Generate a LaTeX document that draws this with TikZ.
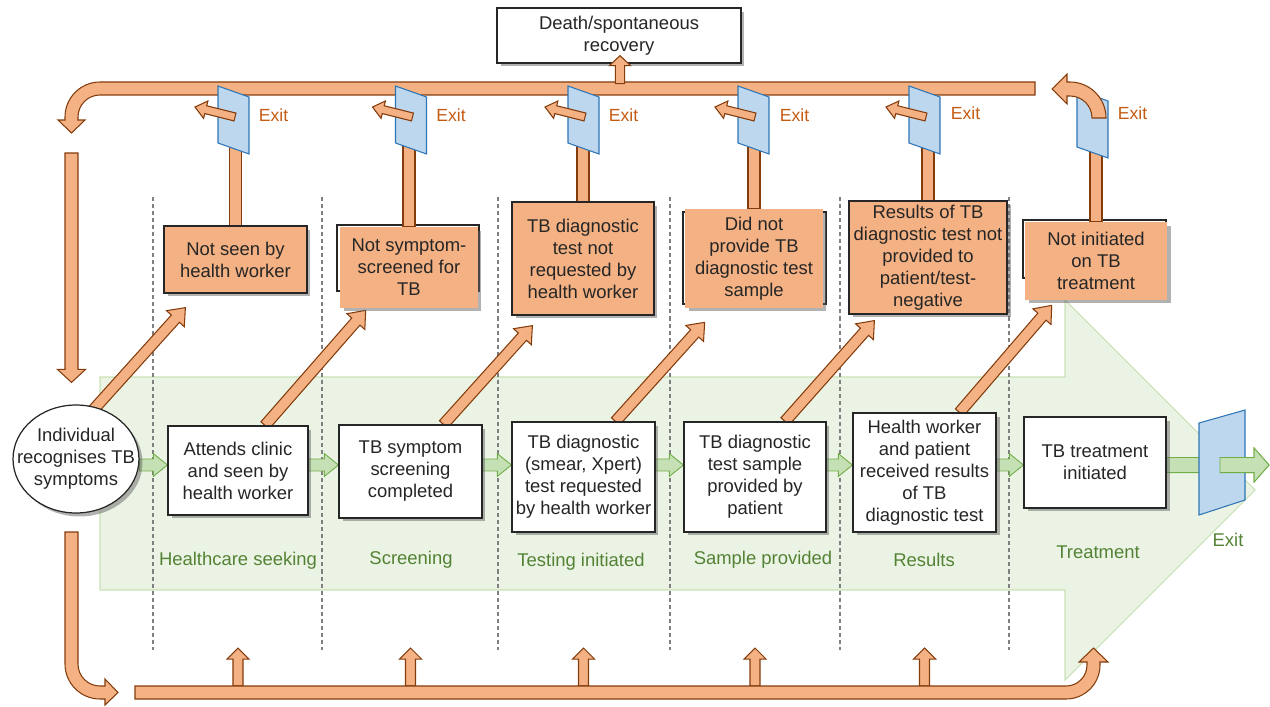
\documentclass[tikz,border=0pt]{standalone}
\usepackage{fontspec}
\setmainfont{Liberation Sans}
\usetikzlibrary{shapes.geometric , calc , shadows}

\definecolor{orangefill}{HTML}{F4B183}
\definecolor{orangeline}{HTML}{843C0C}
\definecolor{greenfill}{HTML}{C5E0B4}
\definecolor{greenline}{HTML}{70AD47}
\definecolor{greenpale}{HTML}{EBF4E4}
\definecolor{greenedge}{HTML}{C9E2B8}
\definecolor{greentext}{HTML}{548235}
\definecolor{doorfill}{HTML}{BDD7EE}
\definecolor{doorline}{HTML}{2E75B6}
\definecolor{exittext}{HTML}{C55A11}
\definecolor{textgray}{HTML}{262626}

\pgfdeclarelayer{back}
\pgfdeclarelayer{mid}
\pgfsetlayers{back,mid,main}

\tikzset{
  shaft half/.store in = \arrshaft ,
  head half/.store in = \arrhead ,
  head len/.store in = \arrlen ,
  boxshadow/.style = {drop shadow = {shadow xshift = 0.07cm , shadow yshift = -0.07cm , opacity = 0.5 , fill = black!60}},
  wbox/.style = {draw = textgray , line width = 0.7pt , fill = white , boxshadow , align = center , inner sep = 0pt},
  obox/.style = {draw = textgray , line width = 0.7pt , fill = orangefill , boxshadow , align = center , inner sep = 0pt},
  ofill/.style = {fill = orangefill , boxshadow , align = center , inner sep = 0pt},
  oval/.style = {ellipse , draw = textgray , line width = 0.7pt , fill = white , boxshadow , align = center , inner xsep = -0.4cm , inner ysep = 0pt , minimum width = 2.52cm , minimum height = 2.16cm},
  stage/.style = {text = greentext},
  exitlabel/.style = {text = exittext , font = \fontsize{10}{12}\selectfont},
  divider/.style = {gray , line width = 0.6pt , dash pattern = on 2.3pt off 1.7pt},
  doorstyle/.style = {draw = doorline , fill = doorfill , line width = 0.6pt},
  orangeshape/.style = {draw = orangeline , fill = orangefill , line width = 0.6pt},
  orangearrow/.style = {orangeshape , shaft half = 3.1pt , head half = 6.8pt , head len = 8.5pt},
  downarrow/.style = {orangeshape , shaft half = 3.7pt , head half = 8pt , head len = 7.4pt},
  uparrow/.style = {orangeshape , shaft half = 2.85pt , head half = 6.3pt , head len = 6.3pt},
  deatharrow/.style = {orangeshape , shaft half = 2.6pt , head half = 6pt , head len = 5.7pt},
  exitarrow/.style = {orangeshape , shaft half = 2.3pt , head half = 5.1pt , head len = 6.3pt},
  greenarrow/.style = {draw = greenline , fill = greenfill , line width = 0.5pt , shaft half = 3.4pt , head half = 6.5pt , head len = 8pt},
  exitgreen/.style = {draw = greenline , fill = greenfill , line width = 0.5pt , shaft half = 4.3pt , head half = 9.7pt , head len = 8.5pt}
}

% block arrow from #2 to #3
\newcommand{\blockarrow}[3][orangearrow]{%
  \draw[#1] let \p1=(#2), \p2=(#3), \n1={atan2(\y2-\y1,\x2-\x1)} in
    ($(\p1)+(\n1+90:\arrshaft)$) -- ($(\p2)+(\n1:-\arrlen)+(\n1+90:\arrshaft)$)
    -- ($(\p2)+(\n1:-\arrlen)+(\n1+90:\arrhead)$) -- (\p2)
    -- ($(\p2)+(\n1:-\arrlen)+(\n1-90:\arrhead)$) -- ($(\p2)+(\n1:-\arrlen)+(\n1-90:\arrshaft)$)
    -- ($(\p1)+(\n1-90:\arrshaft)$) -- cycle;}
\newcommand{\exitdoor}[1]{\draw[doorstyle] ($(#1)+(-15.5,-34)$) -- ++(31,11) -- ++(0,57) -- ++(-31,-11) -- cycle;}

\begin{document}
\begin{tikzpicture}[x = 0.02cm , y = -0.02cm , font = \fontsize{10.5}{12.5}\selectfont , every node/.style = {text = textgray}]
    \useasboundingbox (0,0) rectangle (1270,706);

    % care pathway
    \node[oval] (ell) at (76,459) {Individual\\recognises TB\\symptoms};
    \node[wbox , minimum width = 2.8cm , minimum height = 1.78cm] (b1) at (238,470.5) {Attends clinic\\and seen by\\health worker};
    \node[wbox , minimum width = 2.86cm , minimum height = 1.86cm] (b2) at (410.5,471.5) {TB symptom\\screening\\completed};
    \node[wbox , minimum width = 2.86cm , minimum height = 2.2cm] (b3) at (583.5,477) {TB diagnostic\\(smear, Xpert)\\test requested\\by health worker};
    \node[wbox , minimum width = 2.84cm , minimum height = 2.2cm] (b4) at (755,477) {TB diagnostic\\test sample\\provided by\\patient};
    \node[wbox , minimum width = 2.86cm , minimum height = 2.38cm] (b5) at (924.5,472.5) {Health worker\\and patient\\received results\\of TB\\diagnostic test};
    \node[wbox , minimum width = 2.84cm , minimum height = 1.82cm] (b6) at (1095,462.5) {TB treatment\\initiated};

    % losses
    \node[obox , minimum width = 2.86cm , minimum height = 1.34cm] (o1) at (235.5,259.5) {Not seen by\\health worker};
    \node[ofill , minimum width = 2.76cm , minimum height = 1.62cm] (o2) at (409,267.5) {Not symptom-\\screened for\\TB};
    \node[obox , minimum width = 2.84cm , minimum height = 2.26cm] (o3) at (583,258.5) {TB diagnostic\\test not\\requested by\\health worker};
    \node[ofill , minimum width = 2.76cm , minimum height = 1.98cm] (o4) at (754,258.5) {Did not\\provide TB\\diagnostic test\\sample};
    \node[obox , minimum width = 3.16cm , minimum height = 2.26cm] (o5) at (928,257.5) {Results of TB\\diagnostic test not\\provided to\\patient/test-\\negative};
    \node[ofill , minimum width = 2.84cm , minimum height = 1.56cm] (o6) at (1096,261) {Not initiated\\on TB\\treatment};

    \node[wbox , minimum width = 4.88cm , minimum height = 1.1cm] (death) at (619,35.5) {Death/spontaneous\\recovery};
    \blockarrow[deatharrow]{$(death.south)+(1,20)$}{$(death.south)+(1,-8)$}; % on top of the box

    % stage names
    \node[stage] (s1) at (238,561) {Healthcare seeking};
    \node[stage] (s2) at (411,560) {Screening};
    \node[stage] (s3) at (581,562) {Testing initiated};
    \node[stage] (s4) at (763,560) {Sample provided};
    \node[stage] (s5) at (924,560) {Results};
    \node[stage] (s6) at (1098,552) {Treatment};
    \node[stage] (s7) at (1228,540) {Exit};

    \coordinate (lane) at (0,465);
    \coordinate (lowbar) at (0,686);
    \coordinate (uptip) at (0,648);
    \coordinate (loopin) at (71.5,153);
    \coordinate (exitpt) at (1269,465);
    \coordinate (d1) at (233.5,120);
    \coordinate (d2) at (411,120);
    \coordinate (d3) at (583.5,120);
    \coordinate (d4) at (753.5,120);
    \coordinate (d5) at (924.5,120);
    \coordinate (d6) at (1092.5,124);

    \node[exitlabel] (ex1) at ($(d1)+(40,-5)$) {Exit};
    \node[exitlabel] (ex2) at ($(d2)+(40,-5)$) {Exit};
    \node[exitlabel] (ex3) at ($(d3)+(40,-5)$) {Exit};
    \node[exitlabel] (ex4) at ($(d4)+(41,-5)$) {Exit};
    \node[exitlabel] (ex5) at ($(d5)+(41,-7)$) {Exit};
    \node[exitlabel] (ex6) at ($(d6)+(40,-11)$) {Exit};

    \begin{pgfonlayer}{back}
    \draw[greenedge , fill = greenpale , line width = 0.6pt] (100,377) -- (1065,377) -- (1065,300) -- (1255,490) -- (1065,680) -- (1065,590) -- (100,590) -- cycle; % big arrow
    \draw[divider] (153,197) -- (153,650);
    \draw[divider] (322,197) -- (322,650);
    \draw[divider] (498,197) -- (498,650);
    \draw[divider] (670,197) -- (670,650);
    \draw[divider] (840,197) -- (840,650);
    \draw[divider] (1009,197) -- (1009,650);
    \end{pgfonlayer}

    \begin{pgfonlayer}{mid}
    % outlines behind the shifted fills
    \draw[textgray , line width = 0.7pt] (337,225) rectangle (479,291);
    \draw[textgray , line width = 0.7pt] (683,212) rectangle (826,304);
    \draw[textgray , line width = 0.7pt] (1023,220) rectangle (1166,278);

    % loop back to the start
    \draw[orangeshape] (1035,82) -- (100,82) arc[start angle = 270 , end angle = 180 , radius = 35] -- (65,120) -- (58,120) -- (71.5,133) -- (85,120) -- (78,120) -- (78,117) arc[start angle = 180 , end angle = 270 , radius = 22] -- (1035,95) -- cycle;
    \blockarrow[downarrow]{loopin}{$(ell.north)+(-4.5,-22)$};

    % bottom return
    \blockarrow[uparrow]{b1 |- lowbar}{b1 |- uptip};
    \blockarrow[uparrow]{b2 |- lowbar}{b2 |- uptip};
    \blockarrow[uparrow]{b3 |- lowbar}{b3 |- uptip};
    \blockarrow[uparrow]{b4 |- lowbar}{b4 |- uptip};
    \blockarrow[uparrow]{b5 |- lowbar}{b5 |- uptip};
    \draw[orangeshape] (65,532) -- (65,664) arc[start angle = 180 , end angle = 90 , radius = 35] -- (105,699) -- (105,705) -- (118,692.5) -- (105,679) -- (105,686) -- (100,686) arc[start angle = 90 , end angle = 180 , radius = 22] -- (78,532) -- cycle;
    \draw[orangeshape] (135,686) -- (1066,686) arc[start angle = 90 , end angle = 0 , radius = 21] -- (1087,662) -- (1079,662) -- (1093.5,648) -- (1108,662) -- (1100,662) -- (1100,665) arc[start angle = 0 , end angle = 90 , radius = 34] -- (135,699) -- cycle;

    % bars up to the doors
    \draw[orangeshape] ($(o1.north)+(-6,0)$) rectangle ($(o1.north |- d1)+(6,0)$);
    \draw[orangeshape] ($(o2.north)+(-6,0)$) rectangle ($(o2.north |- d2)+(6,0)$);
    \draw[orangeshape] ($(o3.north)+(-6,0)$) rectangle ($(o3.north |- d3)+(6,0)$);
    \draw[orangeshape] ($(o4.north)+(-6,0)$) rectangle ($(o4.north |- d4)+(6,0)$);
    \draw[orangeshape] ($(o5.north)+(-6,0)$) rectangle ($(o5.north |- d5)+(6,0)$);
    \draw[orangeshape] ($(o6.north)+(-6,0)$) rectangle ($(o6.north |- d6)+(6,0)$);

    % doors
    \exitdoor{d1}
    \exitdoor{d2}
    \exitdoor{d3}
    \exitdoor{d4}
    \exitdoor{d5}
    \exitdoor{d6}
    \blockarrow[exitarrow]{$(d1)+(1.5,-3)$}{$(d1)+(-38.5,-13)$};
    \blockarrow[exitarrow]{$(d2)+(1.5,-3)$}{$(d2)+(-38.5,-13)$};
    \blockarrow[exitarrow]{$(d3)+(1.5,-3)$}{$(d3)+(-38.5,-13)$};
    \blockarrow[exitarrow]{$(d4)+(1.5,-3)$}{$(d4)+(-38.5,-13)$};
    \blockarrow[exitarrow]{$(d5)+(1.5,-3)$}{$(d5)+(-38.5,-13)$};
    \draw[orangeshape] (1106,118) arc[start angle = 0 , end angle = -90 , radius = 36] -- (1067,82) -- (1067,74) -- (1052,89) -- (1067,104) -- (1067,96) -- (1070,96) arc[start angle = -90 , end angle = 0 , radius = 22] -- cycle; % turn back

    % losses from each step
    \blockarrow{$(ell.north)+(15,8)$}{$(o1.south west)+(22,14)$};
    \blockarrow{$(b1.north)+(27,0)$}{$(o2.south west)+(26,2)$};
    \blockarrow{$(b2.north)+(33,0)$}{$(o3.south west)+(21,10)$};
    \blockarrow{$(b3.north)+(32,0)$}{$(o4.south west)+(20,14)$};
    \blockarrow{$(b4.north)+(30,0)$}{$(o5.south west)+(26,6)$};
    \blockarrow{$(b5.north)+(35,0)$}{$(o6.south west)+(27,5)$};

    % steps forward
    \blockarrow[greenarrow]{ell.east |- lane}{b1.west |- lane};
    \blockarrow[greenarrow]{b1.east |- lane}{b2.west |- lane};
    \blockarrow[greenarrow]{b2.east |- lane}{b3.west |- lane};
    \blockarrow[greenarrow]{b3.east |- lane}{b4.west |- lane};
    \blockarrow[greenarrow]{b4.east |- lane}{b5.west |- lane};
    \blockarrow[greenarrow]{b5.east |- lane}{b6.west |- lane};
    \blockarrow[exitgreen]{b6.east |- lane}{exitpt};
    \draw[doorstyle] (1199,423) -- (1245,410) -- (1245,500) -- (1199,515) -- cycle; % final door
    \blockarrow[exitgreen]{$(exitpt)+(-49,0)$}{exitpt};
    \end{pgfonlayer}
\end{tikzpicture}
\end{document}
